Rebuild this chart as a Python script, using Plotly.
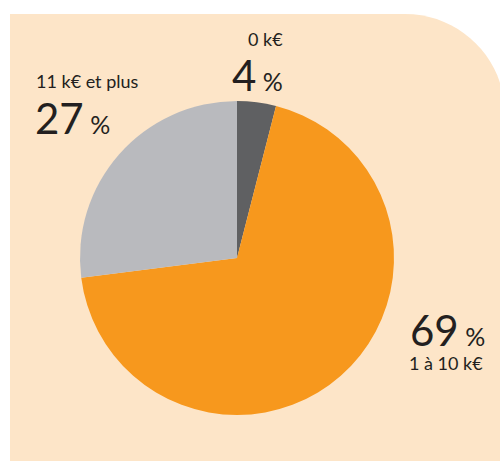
import plotly.graph_objects as go

categories = ["0 k€", "1 à 10 k€", "11 k€ et plus"]
values = [4, 69, 27]
colors = ["#5f6062", "#f7981d", "#b9babe"]

W, H = 500, 461
def px(x): return x / W
def py(y): return 1 - y / H

fig = go.Figure(go.Pie(
    labels=categories, values=values, sort=False, direction="clockwise",
    rotation=0, marker=dict(colors=colors, line=dict(width=0)),
    textinfo="none", hoverinfo="label+percent", showlegend=False,
    domain=dict(x=[px(80), px(394)], y=[py(415), py(101)]),
))

# rounded peach background
k = 0.5523
r = 100
x0, y0, x1, y1 = 10, 14, 505, 470
path = (f"M {px(x0)},{py(y1)} L {px(x0)},{py(y0)} L {px(x1-r)},{py(y0)} "
        f"C {px(x1-r+k*r)},{py(y0)} {px(x1)},{py(y0+r-k*r)} {px(x1)},{py(y0+r)} "
        f"L {px(x1)},{py(y1)} Z")
fig.add_shape(type="path", path=path, xref="paper", yref="paper",
              fillcolor="#fde5c8", line=dict(width=0), layer="below")

font = "Lato"
col = "#231f20"
def big(v):
    return (f"<span style='font-size:42px'>{v}</span>"
            f"<span style='font-size:25px'> %</span>")

ann = [
    dict(x=px(265), y=py(39), text=categories[0], xanchor="center"),
    dict(x=px(257), y=py(75), text=big(values[0]), xanchor="center"),
    dict(x=px(34), y=py(81), text=categories[2], xanchor="left"),
    dict(x=px(33), y=py(118), text=big(values[2]), xanchor="left"),
    dict(x=px(408), y=py(330), text=big(values[1]), xanchor="left"),
    dict(x=px(407), y=py(363), text=categories[1], xanchor="left"),
]
for a in ann:
    fig.add_annotation(x=a["x"], y=a["y"], xref="paper", yref="paper",
                       text=a["text"], showarrow=False, xanchor=a["xanchor"],
                       yanchor="middle", font=dict(family=font, size=18, color=col))

fig.update_layout(width=W, height=H, margin=dict(l=0, r=0, t=0, b=0),
                  paper_bgcolor="white", plot_bgcolor="white")
fig.write_html("out.html", config={"displayModeBar": False},
               post_script="document.body.style.margin='0';document.body.style.overflow='hidden';")
